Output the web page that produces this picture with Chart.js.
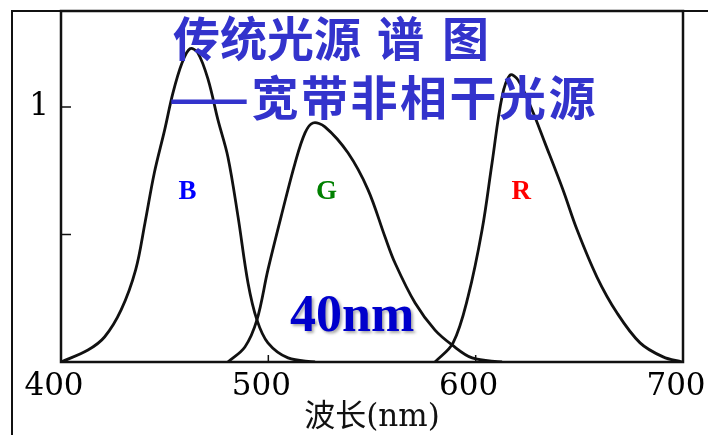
<!DOCTYPE html>
<html>
<head>
<meta charset="utf-8">
<script src="https://cdn.jsdelivr.net/npm/chart.js@4.4.1/dist/chart.umd.min.js"></script>
<style>
  html, body { margin: 0; padding: 0; background: #fff; }
  #wrap { width: 708px; height: 435px; }
</style>
</head>
<body>
<div id="wrap"><canvas id="spectrum" width="708" height="435"></canvas></div>
<script>
// --- Data ---
const xTicks = [400, 500, 600, 700];
const xTickLabels = ['400', '500', '600', '700'];
const yTicks = [0.5, 1];
const yTickLabels = ['', '1'];

// B band
const bWave = [400, 413, 421, 429, 436, 440.5, 445, 450, 454, 458.4, 462.2, 466, 471, 475.7, 480.5, 485.4, 490.2, 494.5, 499.8, 509.5, 522.5];
const bValue = [0, 0.047, 0.098, 0.204, 0.361, 0.545, 0.741, 0.91, 1.055, 1.173, 1.228, 1.212, 1.106, 0.949, 0.804, 0.569, 0.31, 0.165, 0.075, 0.016, 0];
// G band
const gWave = [480.5, 488.7, 494.5, 499.8, 506.6, 512.9, 517.7, 521.5, 527.3, 538.4, 548.1, 556.3, 561.1, 570.8, 580.4, 588.6, 598.3, 612.7];
const gValue = [0, 0.059, 0.165, 0.361, 0.584, 0.78, 0.898, 0.937, 0.922, 0.82, 0.675, 0.49, 0.388, 0.231, 0.125, 0.067, 0.016, 0];
// R band
const rWave = [580.4, 589.1, 596.3, 603.1, 607.9, 612.7, 616.6, 620.4, 627.2, 633.4, 642.1, 648.9, 658.5, 668.2, 679.3, 690.4, 699.5];
const rValue = [0, 0.075, 0.255, 0.518, 0.78, 1.039, 1.125, 1.106, 0.988, 0.859, 0.675, 0.518, 0.333, 0.192, 0.075, 0.02, 0];

const bandLabels = ['B', 'G', 'R'];
const bandColors = ['#0000ff', '#008000', '#ff0000'];
const bandLabelWave = [461, 528, 622];

const toPoints = (xs, ys) => xs.map((x, i) => ({ x: x, y: ys[i] }));

const lineStyle = {
    showLine: true,
    borderColor: '#111',
    borderWidth: 2.8,
    pointRadius: 0,
    tension: 0.35,
    fill: false
};

// --- Extra drawing: frame, inward ticks, annotations ---
const decor = {
    id: 'decor',
    beforeDraw(chart) {
        const ctx = chart.ctx;
        const area = chart.chartArea;
        ctx.save();
        ctx.fillStyle = '#fff';
        ctx.fillRect(0, 0, chart.width, chart.height);
        // outer slide frame
        ctx.strokeStyle = '#111';
        ctx.lineWidth = 2;
        ctx.beginPath();
        ctx.moveTo(12, chart.height);
        ctx.lineTo(12, area.top);
        ctx.lineTo(chart.width, area.top);
        ctx.stroke();
        ctx.restore();
    },
    afterDraw(chart) {
        const ctx = chart.ctx;
        const area = chart.chartArea;
        const xs = chart.scales.x;
        const ys = chart.scales.y;
        ctx.save();

        // plot border
        ctx.strokeStyle = '#111';
        ctx.lineWidth = 2.5;
        ctx.strokeRect(area.left, area.top, area.right - area.left, area.bottom - area.top);

        // inward tick marks
        ctx.lineWidth = 1.5;
        ctx.beginPath();
        xTicks.slice(1, -1).forEach(v => {
            const px = xs.getPixelForValue(v);
            ctx.moveTo(px, area.bottom);
            ctx.lineTo(px, area.bottom - 7);
        });
        yTicks.forEach(v => {
            const py = ys.getPixelForValue(v);
            ctx.moveTo(area.left, py);
            ctx.lineTo(area.left + 10, py);
        });
        ctx.stroke();

        // band letters
        ctx.font = 'bold 27px "Liberation Serif"';
        ctx.textAlign = 'center';
        ctx.textBaseline = 'middle';
        bandLabels.forEach((t, i) => {
            ctx.fillStyle = bandColors[i];
            ctx.fillText(t, xs.getPixelForValue(bandLabelWave[i]), ys.getPixelForValue(0.667));
        });

        // 40nm
        ctx.save();
        ctx.font = 'bold 52px "Liberation Serif"';
        ctx.fillStyle = '#0000cc';
        ctx.shadowColor = 'rgba(0,0,0,0.35)';
        ctx.shadowOffsetX = 2;
        ctx.shadowOffsetY = 2;
        ctx.shadowBlur = 3;
        ctx.fillText('40nm', xs.getPixelForValue(540.4), ys.getPixelForValue(0.173));
        ctx.restore();

        // slide heading
        ctx.font = 'bold 47px "Noto Sans CJK SC"';
        ctx.fillStyle = '#3333cc';
        ctx.textAlign = 'left';
        ctx.fillText('传统光源', 173, 38);
        ctx.fillText('谱', 377, 38);
        ctx.fillText('图', 442, 38);
        ctx.letterSpacing = '2.5px';
        ctx.fillText('——宽带非相干光源', 169, 97);

        ctx.restore();
    }
};

new Chart(document.getElementById('spectrum'), {
    type: 'scatter',
    data: {
        datasets: [
            { label: 'B', data: toPoints(bWave, bValue), ...lineStyle },
            { label: 'G', data: toPoints(gWave, gValue), ...lineStyle },
            { label: 'R', data: toPoints(rWave, rValue), ...lineStyle }
        ]
    },
    options: {
        responsive: false,
        animation: false,
        layout: { padding: { left: 12, right: 25, top: 11, bottom: 0 } },
        plugins: {
            legend: { display: false },
            tooltip: { enabled: false }
        },
        scales: {
            x: {
                type: 'linear',
                min: 400,
                max: 700,
                afterBuildTicks: s => { s.ticks = xTicks.map(v => ({ value: v })); },
                afterFit: s => { s.height = 73; s.paddingLeft = 0; s.paddingRight = 0; },
                grid: { display: false, drawTicks: false },
                border: { display: false },
                ticks: {
                    callback: v => xTickLabels[xTicks.indexOf(v)],
                    font: { family: 'DejaVu Serif', size: 31 },
                    color: '#000',
                    padding: 6,
                    labelOffset: -7,
                    maxRotation: 0,
                    autoSkip: false
                },
                title: {
                    display: true,
                    text: '波长(nm)',
                    font: { family: '"DejaVu Serif", "Noto Sans CJK SC"', size: 31 },
                    color: '#111',
                    padding: { top: 0, bottom: -2 }
                }
            },
            y: {
                min: 0,
                max: 1.376,
                afterBuildTicks: s => { s.ticks = yTicks.map(v => ({ value: v })); },
                afterFit: s => { s.width = 49; s.paddingTop = 0; s.paddingBottom = 0; },
                grid: { display: false, drawTicks: false },
                border: { display: false },
                ticks: {
                    callback: v => yTickLabels[yTicks.indexOf(v)],
                    font: { family: 'DejaVu Serif', size: 31 },
                    color: '#000',
                    padding: 12
                }
            }
        }
    },
    plugins: [decor]
});
</script>
</body>
</html>
